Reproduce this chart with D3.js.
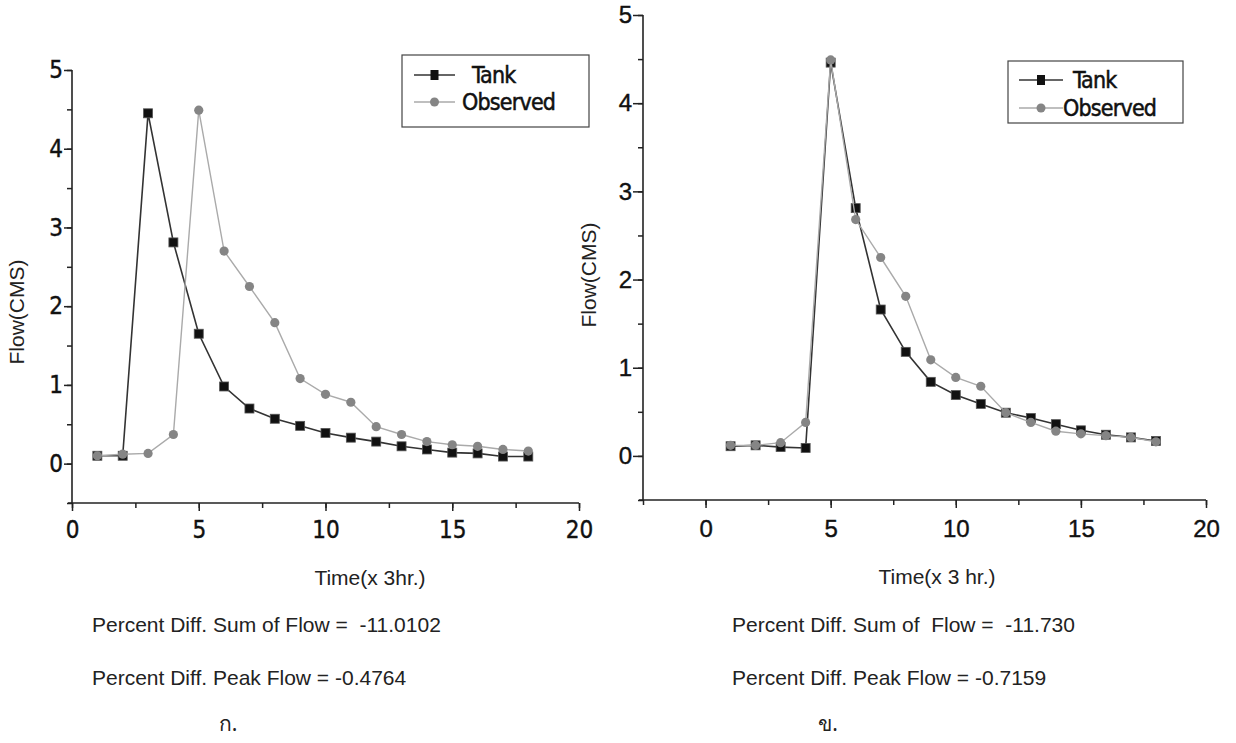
<!DOCTYPE html>
<html>
<head>
<meta charset="utf-8">
<script src="https://cdn.jsdelivr.net/npm/d3@7"></script>
<style>
  body { margin: 0; background: #fff; }
  svg { display: block; }
  text { white-space: pre; }
</style>
</head>
<body>
<div id="chart"></div>
<script>
'use strict'

// time steps (x 3 hr.)
var timeSteps = [1, 2, 3, 4, 5, 6, 7, 8, 9, 10, 11, 12, 13, 14, 15, 16, 17, 18];

// panel ก.
var tankA     = [0.1, 0.1, 4.45, 2.81, 1.65, 0.98, 0.70, 0.57, 0.48, 0.39, 0.33, 0.28, 0.22, 0.18, 0.14, 0.13, 0.09, 0.09];
var observedA = [0.1, 0.12, 0.13, 0.37, 4.49, 2.70, 2.25, 1.79, 1.08, 0.88, 0.78, 0.47, 0.37, 0.28, 0.24, 0.22, 0.18, 0.16];

// panel ข.
var tankB     = [0.11, 0.12, 0.10, 0.09, 4.46, 2.81, 1.66, 1.18, 0.84, 0.69, 0.59, 0.49, 0.43, 0.36, 0.29, 0.24, 0.21, 0.17];
var observedB = [0.12, 0.12, 0.15, 0.38, 4.49, 2.68, 2.25, 1.81, 1.09, 0.89, 0.79, 0.49, 0.38, 0.28, 0.25, 0.23, 0.21, 0.16];

var seriesNames = ["Tank", "Observed"];
var yTicks = [0, 1, 2, 3, 4, 5];
var xTicks = [0, 5, 10, 15, 20];

var notesA = ["Percent Diff. Sum of Flow =  -11.0102", "Percent Diff. Peak Flow = -0.4764", "ก."];
var notesB = ["Percent Diff. Sum of  Flow =  -11.730", "Percent Diff. Peak Flow = -0.7159", "ข."];

var svg = d3.select("#chart").append("svg").attr("width", 1236).attr("height", 743);

function drawPanel(p) {
    var x = d3.scaleLinear().domain(p.xDomain).range([p.left, p.right]);
    var y = d3.scaleLinear().domain([-0.5, 5]).range([p.bottom, p.top]);
    var g = svg.append("g");

    // minor ticks
    var xMinor = d3.range(p.xDomain[0], 20.01, 2.5);
    var yMinor = d3.range(-0.5, 5.01, 0.5);

    var xAxis = d3.axisBottom(x).tickValues(xTicks).tickSize(8).tickPadding(p.xPad).tickFormat(d3.format("d"));
    var yAxis = d3.axisLeft(y).tickValues(yTicks).tickSize(p.yTick).tickPadding(1).tickFormat(d3.format("d"));

    g.append("g").attr("transform", "translate(0," + p.bottom + ")")
        .call(d3.axisBottom(x).tickValues(xMinor).tickSize(5).tickFormat(""))
        .call(function (s) { s.select(".domain").remove(); });
    g.append("g").attr("transform", "translate(" + p.left + ",0)")
        .call(d3.axisLeft(y).tickValues(yMinor).tickSize(5).tickFormat(""))
        .call(function (s) { s.select(".domain").remove(); });

    var gx = g.append("g").attr("transform", "translate(0," + p.bottom + ")").call(xAxis);
    var gy = g.append("g").attr("transform", "translate(" + p.left + ",0)").call(yAxis);
    [gx, gy].forEach(function (a) {
        a.selectAll("path.domain").attr("stroke", "#222").attr("stroke-width", 1.6);
        a.selectAll("text").attr("fill", "#111").attr("stroke", "#111").attr("stroke-width", 0.4)
            .style("font-family", p.tickFont).style("font-size", "24px");
    });
    g.selectAll(".tick line").attr("stroke", "#222").attr("stroke-width", 1.5);
    gx.selectAll(".domain").attr("d", "M" + (p.left - 4) + ",0H" + p.right);
    gy.selectAll(".domain").attr("d", "M0," + p.bottom + "V" + p.top);

    // axis titles
    g.append("text").attr("x", p.xTitle[0]).attr("y", p.xTitle[1]).attr("text-anchor", "middle")
        .style("font-family", "Liberation Sans, Arial").style("font-size", "21px").attr("fill", "#222")
        .text(p.xLabel);
    g.append("text").attr("transform", "translate(" + p.yTitle[0] + "," + p.yTitle[1] + ") rotate(-90)")
        .attr("text-anchor", "middle")
        .style("font-family", "Liberation Sans, Arial").style("font-size", "21px").attr("fill", "#222")
        .text("Flow(CMS)");

    var line = d3.line().x(function (d) { return x(d[0]); }).y(function (d) { return y(d[1]); });
    var tank = timeSteps.map(function (t, i) { return [t, p.tank[i]]; });
    var obs = timeSteps.map(function (t, i) { return [t, p.observed[i]]; });

    g.append("path").datum(tank).attr("d", line).attr("fill", "none").attr("stroke", "#333").attr("stroke-width", 1.6);
    g.selectAll("rect.tank").data(tank).enter().append("rect").attr("class", "tank")
        .attr("x", function (d) { return x(d[0]) - 4.5; }).attr("y", function (d) { return y(d[1]) - 4.5; })
        .attr("width", 9).attr("height", 9).attr("fill", "#111").attr("stroke", "#555").attr("stroke-width", 0.8);

    g.append("path").datum(obs).attr("d", line).attr("fill", "none").attr("stroke", "#aaa").attr("stroke-width", 1.4);
    g.selectAll("circle.obs").data(obs).enter().append("circle").attr("class", "obs")
        .attr("cx", function (d) { return x(d[0]); }).attr("cy", function (d) { return y(d[1]); })
        .attr("r", 4.6).attr("fill", "#858585");

    // legend
    var lg = g.append("g").attr("transform", "translate(" + p.legend[0] + "," + p.legend[1] + ")");
    lg.append("rect").attr("width", p.legend[2]).attr("height", p.legend[3])
        .attr("fill", "#fff").attr("stroke", "#444").attr("stroke-width", 1.2);
    seriesNames.forEach(function (name, i) {
        var cy = p.legendRows[i];
        var row = lg.append("g").attr("transform", "translate(0," + cy + ")");
        row.append("line").attr("x1", p.legendLine[0]).attr("x2", p.legendLine[1])
            .attr("stroke", i === 0 ? "#333" : "#aaa").attr("stroke-width", 1.4);
        var mx = (p.legendLine[0] + p.legendLine[1]) / 2;
        if (i === 0) {
            row.append("rect").attr("x", mx - 4).attr("y", -5).attr("width", 8).attr("height", 10).attr("fill", "#111");
        } else {
            row.append("circle").attr("cx", mx).attr("cy", 0).attr("r", 4.5).attr("fill", "#858585");
        }
        row.append("text").attr("x", p.legendText[i]).attr("y", 8)
            .style("font-family", "DejaVu Sans Condensed, DejaVu Sans").style("font-size", "23px")
            .style("letter-spacing", "-0.8px").attr("fill", "#111").attr("stroke", "#111").attr("stroke-width", 0.5)
            .text(name);
    });

    // notes below panel
    var notes = g.append("g").style("font-family", "Liberation Sans, Arial").style("font-size", "21px").attr("fill", "#222");
    notes.append("text").attr("x", p.notesX).attr("y", 632).text(p.notes[0]);
    notes.append("text").attr("x", p.notesX).attr("y", 685).text(p.notes[1]);
    notes.append("text").attr("x", p.thaiX).attr("y", 731).attr("text-anchor", "middle")
        .style("font-family", "Noto Sans, DejaVu Sans, sans-serif").text(p.notes[2]);
}

drawPanel({
    xDomain: [0, 20], left: 72, right: 579, top: 70, bottom: 503, xPad: 10, yTick: 8,
    tank: tankA, observed: observedA, tickFont: "DejaVu Sans Condensed, DejaVu Sans",
    xLabel: "Time(x 3hr.)", xTitle: [370, 585], yTitle: [24, 312],
    legend: [402, 55, 187, 72], legendRows: [20, 47], legendLine: [12, 53], legendText: [70, 60],
    notes: notesA, notesX: 92, thaiX: 228
});

drawPanel({
    xDomain: [-2.5, 20], left: 643, right: 1206, top: 15, bottom: 500, xPad: 12, yTick: 10,
    tank: tankB, observed: observedB, tickFont: "Liberation Sans, Arial",
    xLabel: "Time(x 3 hr.)", xTitle: [937, 584], yTitle: [596, 275],
    legend: [1008, 61, 175, 62], legendRows: [19, 47], legendLine: [11, 55], legendText: [65, 55],
    notes: notesB, notesX: 732, thaiX: 828
});
</script>
</body>
</html>
